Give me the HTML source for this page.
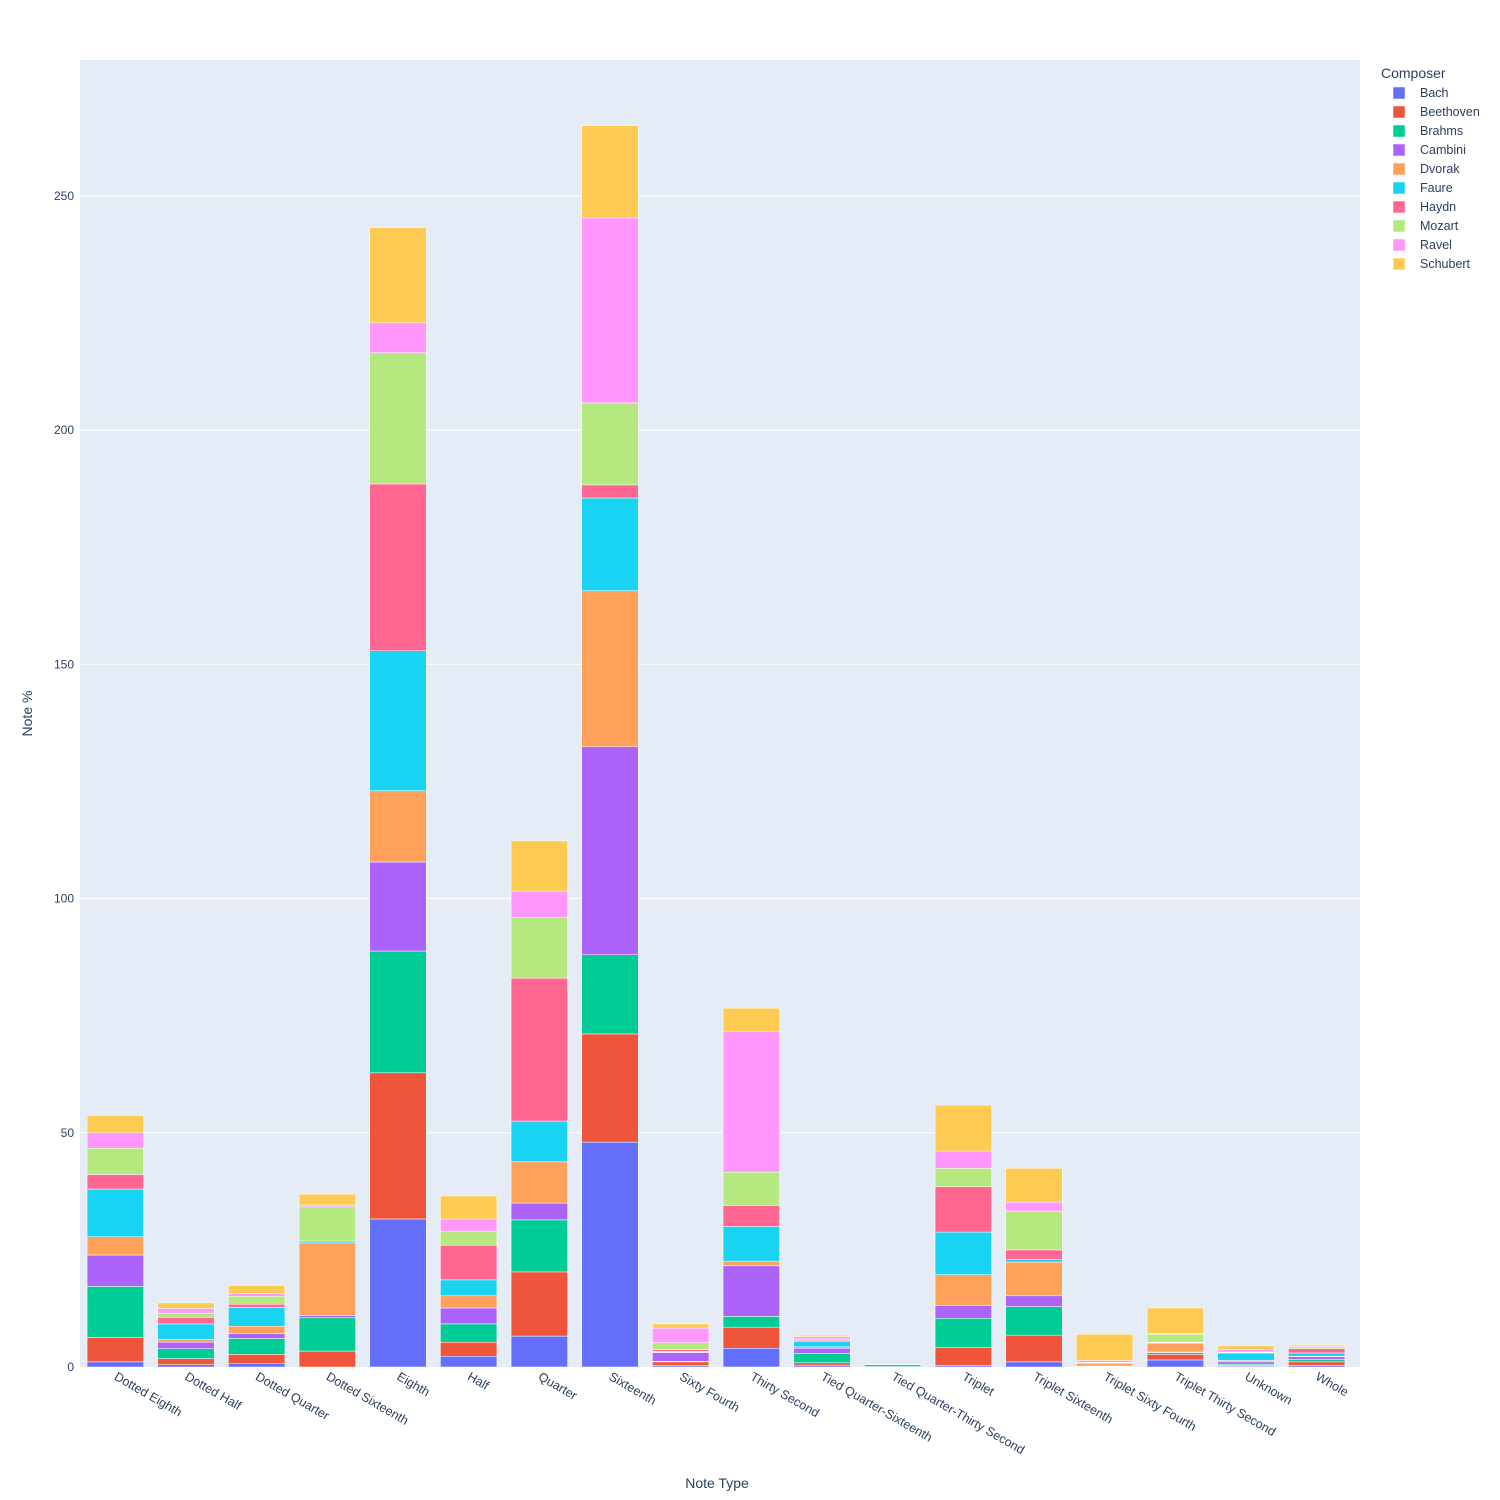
<!DOCTYPE html>
<html><head><meta charset="utf-8"><style>
body{margin:0;background:#fff;}
svg{display:block;font-family:"Liberation Sans",sans-serif;}
</style></head><body>
<svg id="chart" width="1500" height="1500"></svg>
<script>
const categories=["Dotted Eighth","Dotted Half","Dotted Quarter","Dotted Sixteenth","Eighth","Half","Quarter","Sixteenth","Sixty Fourth","Thirty Second","Tied Quarter-Sixteenth","Tied Quarter-Thirty Second","Triplet","Triplet Sixteenth","Triplet Sixty Fourth","Triplet Thirty Second","Unknown","Whole"];
const composers=["Bach","Beethoven","Brahms","Cambini","Dvorak","Faure","Haydn","Mozart","Ravel","Schubert"];
const colors=["#636efa","#EF553B","#00cc96","#ab63fa","#FFA15A","#19d3f3","#FF6692","#B6E880","#FF97FF","#FECB52"];
const bach=[1.1,0.5,0.8,0,31.6,2.3,6.6,48.0,0.3,4.0,0.4,0.05,0.3,1.1,0.1,1.5,0.2,0.3];
const beethoven=[5.2,1.3,1.9,3.4,31.2,3.0,13.7,23.1,0.8,4.5,0.5,0.05,3.9,5.7,0.1,1.2,0.2,0.8];
const brahms=[10.9,2.1,3.4,7.1,26.0,3.9,11.1,16.9,0.1,2.3,2.0,0.4,6.2,6.1,0,0.4,0.2,0.5];
const cambini=[6.7,1.4,1.0,0.5,19.0,3.4,3.6,44.4,1.9,10.8,1.1,0,2.7,2.3,0,0.1,0.5,0.6];
const dvorak=[3.9,0.6,1.6,15.5,15.2,2.6,8.8,33.3,0.1,1.0,0.3,0,6.6,7.2,0.6,1.9,0.3,0.1];
const faure=[10.2,3.3,4.0,0.4,29.9,3.4,8.7,19.8,0.1,7.4,1.2,0.1,9.1,0.6,0,0.1,1.6,0.7];
const haydn=[3.1,1.4,0.7,0,35.6,7.4,30.5,2.8,0.4,4.5,0.2,0,9.7,2.0,0.1,0.1,0.1,0.9];
const mozart=[5.6,0.9,1.7,7.3,28.0,3.0,12.9,17.5,1.5,7.1,0.3,0,3.9,8.3,0.1,1.7,0.1,0.4];
const ravel=[3.3,1.0,0.6,0.4,6.4,2.6,5.7,39.5,3.1,30.1,0.5,0,3.7,1.9,0.4,0.1,0.5,0.2];
const schubert=[3.7,1.2,1.7,2.3,20.3,4.9,10.7,19.7,0.9,4.9,0.3,0,9.8,7.2,5.6,5.5,0.8,0.3];
const yTicks=[0,50,100,150,200,250];
const series=[bach,beethoven,brahms,cambini,dvorak,faure,haydn,mozart,ravel,schubert];

const NS="http://www.w3.org/2000/svg";
const svg=document.getElementById('chart');
const L=80,R=1360,RB=1352,T=60,B=1367,YMAX=279;
const band=(RB-L)/categories.length;
const x=i=>L+band*i;
const y=v=>B-(v/YMAX)*(B-T);
function mk(tag,attrs,parent){const e=document.createElementNS(NS,tag);for(const k in attrs)e.setAttribute(k,attrs[k]);(parent||svg).appendChild(e);return e;}

const bg=mk('rect',{x:L,y:T,width:R-L,height:B-T,fill:'#E5ECF6'});



const grid=mk('g',{});


yTicks.forEach(t=>{
  if(t>0){const gl=mk('line',{x1:L,x2:R,y1:y(t),y2:y(t),stroke:'#fff','stroke-width':1},grid);
  
  }
  const tl=mk('text',{x:L-6,y:y(t)+4,'text-anchor':'end','font-size':12,fill:'#2a3f5f'});
  tl.textContent=t;
  
  
});

const bars=mk('g',{});


const cum=categories.map(()=>0);
series.forEach((s,si)=>{
  s.forEach((v,ci)=>{
    if(v<=0)return;
    const y0=y(cum[ci]),y1=y(cum[ci]+v);
    cum[ci]+=v;
    const r=mk('rect',{x:x(ci)+band*0.1,y:y1,width:band*0.8,height:y0-y1,fill:colors[si],stroke:'#fff','stroke-width':0.5},bars);
    
    
  });
});

categories.forEach((c,i)=>{
  const cx=x(i)+band/2-2, cy=B+12;
  const t=mk('text',{x:cx,y:cy,'font-size':12.5,fill:'#2a3f5f','text-anchor':'start',transform:`rotate(30 ${cx} ${cy})`});
  t.textContent=c;
  
  
});

const xt=mk('text',{x:717,y:1488,'text-anchor':'middle','font-size':14,fill:'#2a3f5f'});
xt.textContent='Note Type';


const yt=mk('text',{x:32,y:(T+B)/2,'text-anchor':'middle','font-size':14,fill:'#2a3f5f',transform:`rotate(-90 32 ${(T+B)/2})`});
yt.textContent='Note %';



const lg=mk('g',{});


const lt=mk('text',{x:1381,y:78,'font-size':14,fill:'#2a3f5f'},lg);
lt.textContent='Composer';


composers.forEach((c,i)=>{
  const yy=93+i*19;
  const g=mk('g',{},lg);
  
  
  mk('rect',{x:1393,y:yy-6,width:12,height:12,fill:colors[i],stroke:'#fff','stroke-width':0.5},g);
  const tx=mk('text',{x:1420,y:yy+4,'font-size':12.5,fill:'#2a3f5f'},g);
  tx.textContent=c;
});
</script>
</body></html>
